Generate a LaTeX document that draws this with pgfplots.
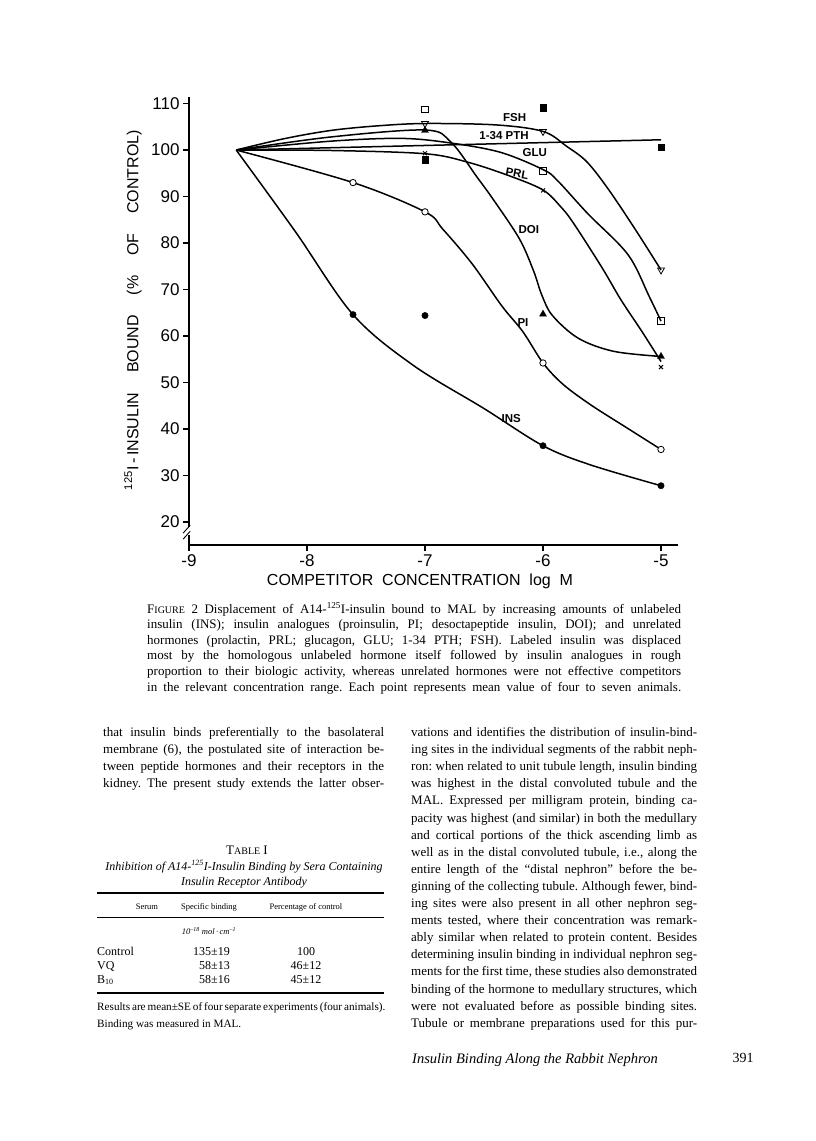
\documentclass[border=0pt]{standalone}
\usepackage{pgfplots}
\pgfplotsset{compat=1.18}
\usepackage{fontspec}
\setmainfont{Liberation Serif}
\newfontfamily\sans{Liberation Sans}
\frenchspacing

% page text helpers: x, baseline y (pixels from top), width, text
\newcommand\jl[4]{\node[anchor=base west, inner sep=0pt] at (#1pt,-#2pt) {\makebox[#3pt][s]{#4}};}
\newcommand\tx[3]{\node[anchor=base west, inner sep=0pt] at (#1pt,-#2pt) {#3};}
\newcommand\tc[3]{\node[anchor=base, inner sep=0pt] at (#1pt,-#2pt) {#3};}
\newcommand\tr[3]{\node[anchor=base east, inner sep=0pt] at (#1pt,-#2pt) {#3};}
\newcommand\lab[3]{\node[font=\sans\bfseries\fontsize{11.5}{13}\selectfont, inner sep=0pt] at (axis cs:#1,#2) {#3};}

\begin{document}
\begin{tikzpicture}
\path[use as bounding box, fill=white] (0,0) rectangle (816pt,-1141pt);

\begin{axis}[
    at={(189pt,-545pt)}, anchor=south west,
    scale only axis, width=489pt, height=448pt,
    xmin=-9, xmax=-4.856, ymin=15.05, ymax=111.4,
    axis x line=bottom, axis y line=left,
    axis line style={line width=1.2pt, -},
    xtick={-9,-8,-7,-6,-5}, ytick={20,30,...,110},
    tick align=outside, major tick length=6pt,
    tick style={line width=1.1pt, black},
    ticklabel style={font=\sans\fontsize{17}{18}\selectfont},
    /pgf/number format/assume math mode=true,
    clip=false,
]
% fitted curves
\addplot[black, line width=1.5pt, smooth, tension=0.55] coordinates {
    (-8.60,100)(-8.10,82.5)(-7.61,64.6)(-7.10,53.7)(-6.50,44.4)(-6.00,36.4)(-5.60,32.3)(-5.00,27.8)};
\addplot[black, line width=1.5pt, smooth, tension=0.55] coordinates {
    (-8.60,100)(-7.61,93.0)(-7.00,86.7)(-6.85,83.0)(-6.60,75.5)(-6.35,66.5)(-6.17,60.9)(-6.00,54.2)
    (-5.83,49.6)(-5.59,45.1)(-5.28,40.1)(-5.00,35.6)};
\addplot[black, line width=1.5pt, smooth, tension=0.55] coordinates {
    (-8.60,100)(-7.80,102.8)(-7.00,104.3)(-6.78,101.7)(-6.56,94.2)(-6.42,89.3)(-6.20,80.9)(-6.08,74.0)
    (-6.01,68.8)(-5.92,64.4)(-5.70,59.5)(-5.40,56.7)(-5.00,55.6)};
\addplot[black, line width=1.5pt, smooth, tension=0.55] coordinates {
    (-8.60,100)(-8.20,102.4)(-7.80,104.2)(-7.40,105.2)(-7.00,105.7)(-6.40,105.4)(-6.00,104.0)
    (-5.80,100.8)(-5.63,97.5)(-5.45,91.7)(-5.22,83.0)(-5.00,74.2)};
\addplot[black, line width=1.5pt, smooth, tension=0.55] coordinates {
    (-8.60,100)(-7.80,101.9)(-7.20,102.5)(-6.78,101.5)(-6.36,99.5)(-6.00,95.8)(-5.88,93.5)
    (-5.62,86.3)(-5.28,77.5)(-5.10,68.5)(-5.00,63.2)};
\addplot[black, line width=1.5pt, smooth, tension=0.55] coordinates {
    (-8.60,100)(-7.80,99.9)(-7.00,99.2)(-6.64,97.4)(-6.28,94.4)(-6.00,91.4)(-5.85,87.8)
    (-5.74,84.2)(-5.50,74.7)(-5.34,67.8)(-5.16,60.9)(-5.00,54.5)};
\addplot[black, line width=1.5pt] coordinates {(-8.60,100)(-5.00,102.2)};

% data points
\addplot[black, only marks, mark=square, mark size=3.3pt, mark options={fill=white, line width=0.8pt}]
    coordinates {(-7,108.7)(-6,95.5)(-5,63.2)};
\addplot[black, only marks, mark=square*, mark size=3.3pt]
    coordinates {(-7,97.9)(-6,109.1)(-5,100.6)};
\addplot[black, only marks, mark=triangle, mark size=4pt, mark options={rotate=180, fill=white, line width=0.8pt}]
    coordinates {(-7,105.7)(-6,104.0)(-5,74.2)};
\addplot[black, only marks, mark=triangle*, mark size=4pt]
    coordinates {(-7,104.2)(-6,64.7)(-5,55.6)};
\addplot[black, only marks, mark=x, mark size=2.8pt, mark options={line width=1pt}]
    coordinates {(-7,99.3)(-6,91.3)(-5,53.3)};
\addplot[black, only marks, mark=*, mark size=3.2pt, mark options={fill=white, line width=0.8pt}]
    coordinates {(-7.61,93.0)(-7,86.7)(-6,54.2)(-5,35.6)};
\addplot[black, only marks, mark=*, mark size=3.2pt]
    coordinates {(-7.61,64.6)(-7,64.4)(-6,36.4)(-5,27.8)};

% curve labels
\lab{-6.24}{107.0}{FSH}
\lab{-6.33}{103.2}{1-34 PTH}
\lab{-6.07}{99.5}{GLU}
\node[font=\sans\bfseries\fontsize{11.5}{13}\selectfont, inner sep=0pt, rotate=-10] at (axis cs:-6.22,94.9) {PRL};
\lab{-6.12}{83}{DOI}
\lab{-6.17}{63}{PI}
\lab{-6.27}{42.3}{INS}

% axis break
\fill[white] (axis cs:-9.04,17.3) rectangle (axis cs:-8.96,18.9);
\draw[line width=0.9pt] (axis cs:-9.05,17.6) -- (axis cs:-8.99,19.3);
\draw[line width=0.9pt] (axis cs:-9.05,16.3) -- (axis cs:-8.99,18.0);
\end{axis}

\node[font=\sans\fontsize{16}{18}\selectfont] at (420pt,-581pt) {COMPETITOR\ \ CONCENTRATION\ \ log\ \ M};
\node[rotate=90, font=\sans\fontsize{16}{18}\selectfont] at (133pt,-310pt)
    {\makebox[360pt][s]{\textsuperscript{125}I\,-\,INSULIN BOUND (\% OF CONTROL)}};

% caption
\begin{scope}[font=\fontsize{13}{15}\selectfont]
\jl{147}{613}{534}{F{\fontsize{10}{12}\selectfont IGURE} 2\hspace{0.5em}Displacement of A14-\textsuperscript{125}I-insulin bound to MAL by increasing amounts of unlabeled}
\jl{147}{628.6}{534}{insulin (INS); insulin analogues (proinsulin, PI; desoctapeptide insulin, DOI); and unrelated}
\jl{147}{644.2}{534}{hormones (prolactin, PRL; glucagon, GLU; 1-34 PTH; FSH). Labeled insulin was displaced}
\jl{147}{659.8}{534}{most by the homologous unlabeled hormone itself followed by insulin analogues in rough}
\jl{147}{675.4}{534}{proportion to their biologic activity, whereas unrelated hormones were not effective competitors}
\jl{147}{691}{534}{in the relevant concentration range. Each point represents mean value of four to seven animals.}

% left column
\jl{103}{736.5}{281}{that insulin binds preferentially to the basolateral}
\jl{103}{753.6}{281}{membrane (6), the postulated site of interaction be-}
\jl{103}{770.7}{281}{tween peptide hormones and their receptors in the}
\jl{103}{787.8}{281}{kidney. The present study extends the latter obser-}

% right column
\jl{411}{736.5}{286}{vations and identifies the distribution of insulin-bind-}
\jl{411}{753.6}{286}{ing sites in the individual segments of the rabbit neph-}
\jl{411}{770.7}{286}{ron: when related to unit tubule length, insulin binding}
\jl{411}{787.8}{286}{was highest in the distal convoluted tubule and the}
\jl{411}{804.9}{286}{MAL. Expressed per milligram protein, binding ca-}
\jl{411}{822.0}{286}{pacity was highest (and similar) in both the medullary}
\jl{411}{839.1}{286}{and cortical portions of the thick ascending limb as}
\jl{411}{856.2}{286}{well as in the distal convoluted tubule, i.e., along the}
\jl{411}{873.3}{286}{entire length of the ``distal nephron'' before the be-}
\jl{411}{890.4}{286}{ginning of the collecting tubule. Although fewer, bind-}
\jl{411}{907.5}{286}{ing sites were also present in all other nephron seg-}
\jl{411}{924.6}{286}{ments tested, where their concentration was remark-}
\jl{411}{941.7}{286}{ably similar when related to protein content. Besides}
\jl{411}{958.8}{286}{determining insulin binding in individual nephron seg-}
\jl{411}{975.9}{286}{ments for the first time, these studies also demonstrated}
\jl{411}{993.0}{286}{binding of the hormone to medullary structures, which}
\jl{411}{1010.1}{286}{were not evaluated before as possible binding sites.}
\jl{411}{1027.2}{286}{Tubule or membrane preparations used for this pur-}

% table
\tc{247}{854}{T{\fontsize{10}{12}\selectfont ABLE} I}
\end{scope}
\begin{scope}[font=\fontsize{12}{14}\selectfont]
\tc{244}{870}{\itshape Inhibition of A14-\textsuperscript{125}I-Insulin Binding by Sera Containing}
\tc{244}{885}{\itshape Insulin Receptor Antibody}
\draw[line width=1.1pt] (97pt,-893pt) -- (384pt,-893pt);
\tc{147}{909}{\fontsize{8.5}{10}\selectfont Serum}
\tc{209}{909}{\fontsize{8.5}{10}\selectfont Specific binding}
\tc{306}{909}{\fontsize{8.5}{10}\selectfont Percentage of control}
\draw[line width=0.5pt] (97pt,-917pt) -- (384pt,-917pt);
\tc{209}{934}{\fontsize{8.5}{10}\selectfont\itshape 10\textsuperscript{--18} mol\,·\,cm\textsuperscript{--1}}
\tx{97}{955}{Control}\tr{230}{955}{135±19}\tc{306}{955}{100}
\tx{97}{969}{VQ}\tr{230}{969}{58±13}\tc{306}{969}{46±12}
\tx{97}{983}{B\textsubscript{10}}\tr{230}{983}{58±16}\tc{306}{983}{45±12}
\draw[line width=1.1pt] (97pt,-993pt) -- (384pt,-993pt);
\jl{97}{1010}{287}{\fontsize{11.2}{13}\selectfont Results are mean±SE of four separate experiments (four animals).}
\tx{97}{1027}{\fontsize{11.2}{13}\selectfont Binding was measured in MAL.}
\end{scope}

% running footer
\tx{412}{1063}{\fontsize{14.5}{16}\selectfont\itshape Insulin Binding Along the Rabbit Nephron}
\tc{743}{1062}{\fontsize{14}{16}\selectfont 391}
\end{tikzpicture}
\end{document}
